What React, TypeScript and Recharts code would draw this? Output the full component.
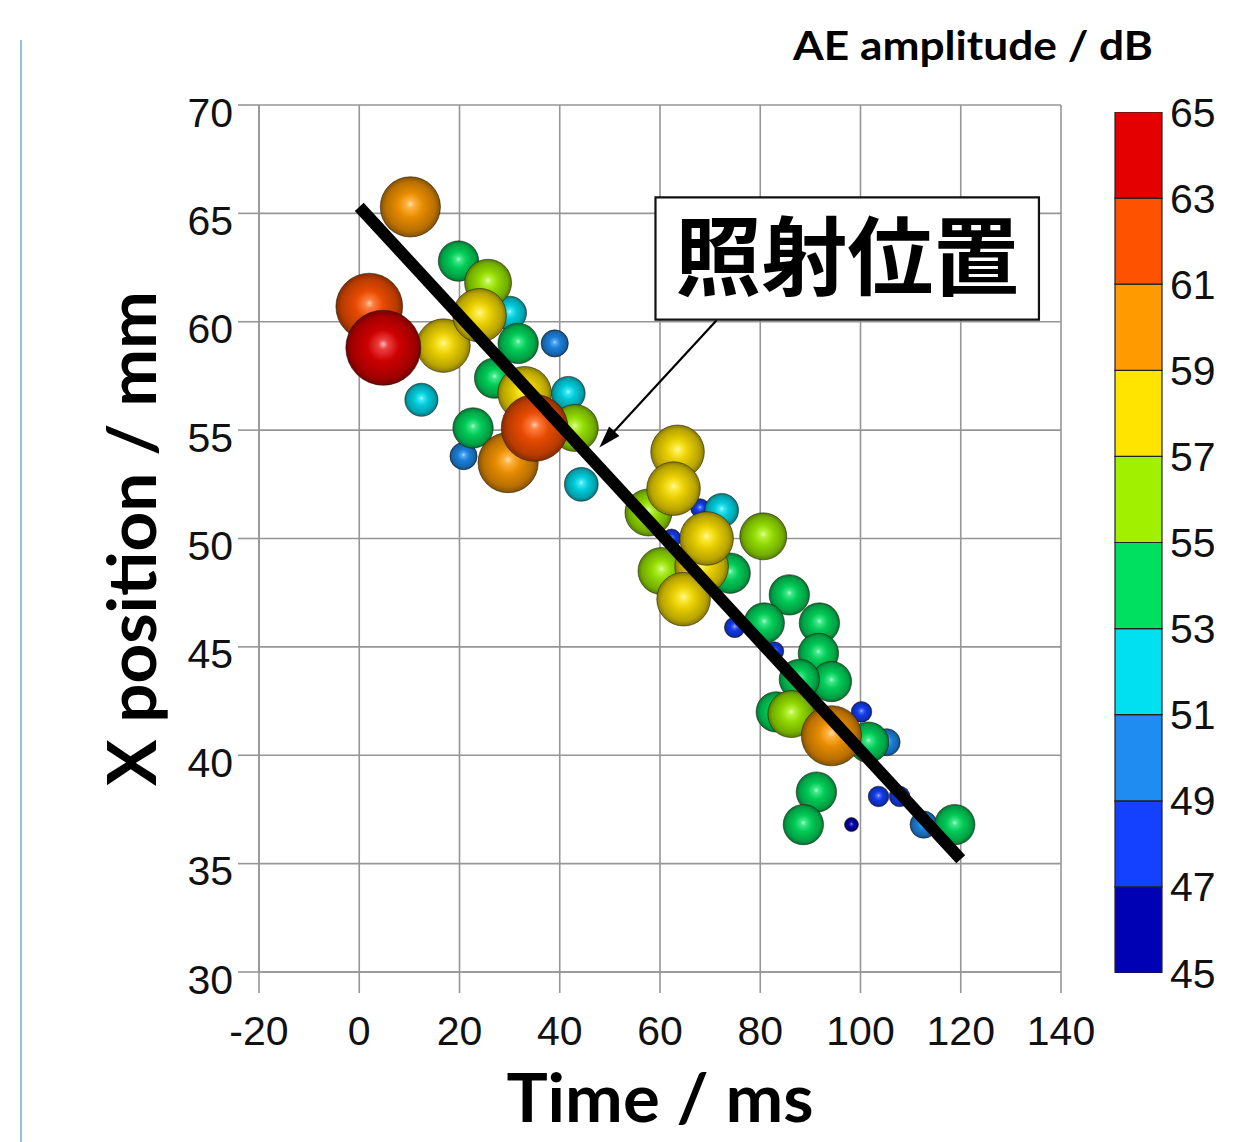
import React from 'react';
import {
  ScatterChart,
  Scatter,
  XAxis,
  YAxis,
  CartesianGrid,
  ReferenceLine,
  ReferenceArea,
  Label,
  BarChart,
  Bar,
} from 'recharts';

// ---- data ----
const times = [
  68, 62.3, 74.9, 82.8, 100.2, 103.6, 107.8, 98.2, 112.6, 105.2, 20.8, 39,
  12.4, 30, 41.7, 44.3, 72.3,
  19.8, 27, 22.7, 74, 85.8, 80.8, 91.8, 91.6, 94.2, 87.8, 83.2, 101.6, 91.2, 88.6, 118.8,
  25.7, 43, 57.7, 80.6, 60.3, 86.2,
  16.8, 24, 31.7, 33, 63.5, 62.7, 68.3, 64.7, 69.3,
  10.2, 29.7, 94.2,
  2, 35,
  4.8,
];
const positions = [
  51.4, 50.0, 45.9, 44.8, 42.0, 38.1, 38.1, 36.8, 36.8, 40.6, 53.8, 59.0,
  56.4, 60.4, 56.7, 52.5, 51.3,
  62.8, 57.4, 55.1, 48.4, 47.4, 46.1, 46.1, 44.7, 43.4, 43.5, 42.0, 40.6, 38.3, 36.8, 36.8,
  61.8, 55.1, 51.2, 50.1, 48.5, 41.9,
  58.9, 60.3, 59.0, 56.7, 54.0, 52.3, 48.7, 47.2, 50.0,
  65.3, 53.5, 40.9,
  60.7, 55.1,
  58.8,
];
const amplitudes = [
  47.5, 47.5, 48, 47.5, 48, 48, 48, 46, 50, 50, 50, 50,
  51.8, 52, 52, 52, 52,
  54, 54, 54, 54, 54, 54, 54, 54, 54, 54, 54, 54, 54, 54, 54,
  56, 56, 56, 56, 56, 56,
  58, 58, 54, 58, 58, 58, 58, 58, 58,
  60, 60, 60,
  62, 62,
  64.5,
];

const xTicks = [-20, 0, 20, 40, 60, 80, 100, 120, 140];
const yTicks = [30, 35, 40, 45, 50, 55, 60, 65, 70];
const levels = [45, 47, 49, 51, 53, 55, 57, 59, 61, 63, 65];
const levelColors = [
  '#0000b4', '#1440ff', '#1e8cf0', '#00e0f0', '#00e060',
  '#a0f000', '#ffe400', '#ff9a00', '#ff5200', '#e40000',
];
const fitLine = [{ x: 0, y: 65.3 }, { x: 120, y: 35.2 }];
const arrowLine = [{ x: 71.3, y: 60.07 }, { x: 47.9, y: 54.2 }];
const calloutBox = { x1: 59.1, x2: 135.6, y1: 60.1, y2: 65.74, text: '照射位置' };

const xTitle = 'Time / ms';
const yTitle = 'X position / mm';
const cbTitle = 'AE amplitude / dB';

// ---- helpers ----
const points = times.map((t, i) => ({ time: t, pos: positions[i], amp: amplitudes[i] }));

const bandRow: Record<string, number> = { base: levels[0] };
levels.slice(0, -1).forEach((lo, i) => {
  bandRow['b' + i] = levels[i + 1] - lo;
});
const bandData = [{ name: 'cb', ...bandRow }];

function hexToRgb(h: string) {
  const n = parseInt(h.slice(1), 16);
  return [(n >> 16) & 255, (n >> 8) & 255, n & 255];
}
function mix(h: string, target: number[], t: number) {
  const c = hexToRgb(h);
  const r = c.map((v, i) => Math.round(v + (target[i] - v) * t));
  return `rgb(${r[0]},${r[1]},${r[2]})`;
}
function bandOf(a: number) {
  const idx = Math.floor((a - levels[0]) / 2);
  return Math.max(0, Math.min(levelColors.length - 1, idx));
}

const Sphere = (props: any) => {
  const { cx, cy, payload, index } = props;
  if (cx == null || cy == null) return null;
  const base = levelColors[bandOf(payload.amp)];
  const r = 7 + (payload.amp - 46) * 1.65;
  const id = `sph-${index}`;
  return (
    <g>
      <defs>
        <radialGradient id={id} cx="50%" cy="50%" r="50%" fx="50%" fy="45%">
          <stop offset="0%" stopColor={mix(base, [255, 255, 255], 0.72)} />
          <stop offset="13%" stopColor={mix(base, [255, 255, 255], 0.25)} />
          <stop offset="42%" stopColor={mix(base, [0, 0, 0], 0.1)} />
          <stop offset="82%" stopColor={mix(base, [0, 0, 0], 0.28)} />
          <stop offset="100%" stopColor={mix(base, [0, 0, 0], 0.48)} />
        </radialGradient>
      </defs>
      <circle cx={cx} cy={cy} r={r} fill={`url(#${id})`} stroke="rgba(30,25,10,0.55)" strokeWidth={1} />
    </g>
  );
};

const ArrowShape = (props: any) => {
  const { x1, y1, x2, y2 } = props;
  if (x1 == null) return null;
  const dx = x2 - x1;
  const dy = y2 - y1;
  const len = Math.sqrt(dx * dx + dy * dy);
  const ux = dx / len;
  const uy = dy / len;
  const L = 22;
  const W = 7;
  const bx = x2 - ux * L;
  const by = y2 - uy * L;
  return (
    <g>
      <line x1={x1} y1={y1} x2={bx + ux * 4} y2={by + uy * 4} stroke="#000" strokeWidth={2.2} />
      <polygon
        points={`${x2},${y2} ${bx - uy * W},${by + ux * W} ${bx + uy * W},${by - ux * W}`}
        fill="#000"
      />
    </g>
  );
};

const tickFont = '"Liberation Sans", Arial, sans-serif';
const tickStyle = { fontFamily: tickFont, fontSize: 41, fill: '#111' };
const titleFont = 'Lato, "Open Sans", sans-serif';

const YTick = (props: any) => {
  const { x, y, payload } = props;
  return (
    <text
      x={x}
      y={y + 7}
      dy="0.355em"
      textAnchor="end"
      fontFamily={tickFont}
      fontSize={41}
      fill="#111"
    >
      {payload.value}
    </text>
  );
};

export default function App() {
  return (
    <div style={{ position: 'absolute', left: 0, top: 0, width: 1236, height: 1142, background: '#fff' }}>
      <div style={{ position: 'absolute', left: 20, top: 40, width: 2, height: 1102, background: '#9cbde3' }} />
      <div style={{ position: 'absolute', left: 0, top: 0 }}>
        <ScatterChart width={1236} height={1142} margin={{ top: 105, right: 175, left: 0, bottom: 0 }}>
          <CartesianGrid stroke="#969696" strokeWidth={1.6} />
          <XAxis
            type="number"
            dataKey="time"
            domain={[-20, 140]}
            ticks={xTicks}
            height={170}
            tick={tickStyle}
            tickSize={21}
            tickMargin={23}
            stroke="#969696"
            strokeWidth={1.6}
            interval={0}
          >
            <Label
              content={(p: any) => {
                const vb = p.viewBox || { x: 258, y: 972, width: 802 };
                return (
                  <text
                    x={vb.x + vb.width / 2}
                    y={vb.y + 150}
                    textAnchor="middle"
                    fontFamily={titleFont}
                    fontWeight={700}
                    fontSize={66}
                    fill="#000"
                    textLength={307}
                    lengthAdjust="spacingAndGlyphs"
                  >
                    {xTitle}
                  </text>
                );
              }}
            />
          </XAxis>
          <YAxis
            type="number"
            dataKey="pos"
            domain={[30, 70]}
            ticks={yTicks}
            width={259}
            tick={YTick}
            tickSize={21}
            tickMargin={5}
            stroke="#969696"
            strokeWidth={1.6}
            interval={0}
          >
            <Label
              content={(p: any) => {
                const vb = p.viewBox || { x: 0, y: 105, height: 867 };
                const cy = vb.y + vb.height / 2;
                const x = 156;
                return (
                  <text
                    x={x}
                    y={cy}
                    transform={`rotate(-90, ${x}, ${cy})`}
                    textAnchor="middle"
                    fontFamily={titleFont}
                    fontWeight={700}
                    fontSize={67}
                    fill="#000"
                    textLength={495}
                    lengthAdjust="spacingAndGlyphs"
                  >
                    {yTitle}
                  </text>
                );
              }}
            />
          </YAxis>
          <Scatter data={points} shape={Sphere} isAnimationActive={false} />
          <ReferenceLine
            segment={fitLine}
            stroke="#000"
            strokeWidth={12}
            zIndex={900}
            ifOverflow="visible"
          />
          <ReferenceLine segment={arrowLine} shape={ArrowShape} zIndex={900} ifOverflow="visible" />
          <ReferenceArea
            x1={calloutBox.x1}
            x2={calloutBox.x2}
            y1={calloutBox.y1}
            y2={calloutBox.y2}
            fill="#fff"
            fillOpacity={1}
            stroke="#111"
            strokeWidth={2.2}
            zIndex={900}
            ifOverflow="visible"
          >
            <Label
              content={(p: any) => {
                const vb = p.viewBox;
                if (!vb) return null;
                return (
                  <text
                    x={vb.x + vb.width / 2}
                    y={vb.y + vb.height / 2}
                    dy="0.36em"
                    textAnchor="middle"
                    fontFamily='"Noto Sans CJK JP", sans-serif'
                    fontWeight={700}
                    fontSize={86}
                    fill="#000"
                  >
                    {calloutBox.text}
                  </text>
                );
              }}
            />
          </ReferenceArea>
        </ScatterChart>
      </div>
      <div style={{ position: 'absolute', left: 1100, top: 0 }}>
        <BarChart
          width={136}
          height={1142}
          data={bandData}
          margin={{ top: 112, bottom: 169, left: 15, right: 0 }}
          barCategoryGap={0}
          barGap={0}
        >
          <XAxis dataKey="name" hide />
          <YAxis
            orientation="right"
            type="number"
            domain={[45, 65]}
            allowDataOverflow
            ticks={levels}
            width={74}
            axisLine={false}
            tickLine={false}
            tickSize={0}
            tickMargin={8}
            tick={{ ...tickStyle, textAnchor: 'start' }}
            interval={0}
          />
          <Bar dataKey="base" stackId="cb" fill="none" isAnimationActive={false} />
          {levelColors.map((c, i) => (
            <Bar
              key={i}
              dataKey={'b' + i}
              stackId="cb"
              fill={c}
              stroke="#222"
              strokeWidth={1.2}
              isAnimationActive={false}
            />
          ))}
        </BarChart>
      </div>
      <svg style={{ position: 'absolute', left: 0, top: 0 }} width={1236} height={100}>
        <text
          x={973}
          y={60}
          textAnchor="middle"
          fontFamily={titleFont}
          fontWeight={700}
          fontSize={41}
          fill="#000"
          textLength={360}
          lengthAdjust="spacingAndGlyphs"
        >
          {cbTitle}
        </text>
      </svg>
    </div>
  );
}
